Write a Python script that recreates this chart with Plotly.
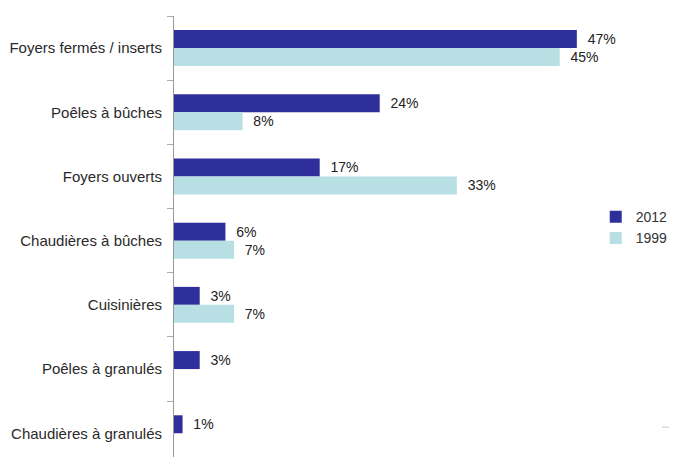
import plotly.graph_objects as go

categories = ["Foyers fermés / inserts", "Poêles à bûches", "Foyers ouverts",
              "Chaudières à bûches", "Cuisinières", "Poêles à granulés",
              "Chaudières à granulés"]
values_2012 = [47, 24, 17, 6, 3, 3, 1]
values_1999 = [45, 8, 33, 7, 7, None, None]

dark = "#2f2f9c"
light = "#b8dfe3"

def labels(vals):
    return ["\u00a0\u00a0" + f"{v}%" if v is not None else "" for v in vals]

lab_font = dict(family="Liberation Sans, Arial", size=14, color="#222")

fig = go.Figure()
fig.add_trace(go.Bar(y=categories, x=values_2012, orientation="h", name="2012",
                     legendgroup="a",
                     marker=dict(color=dark, line=dict(width=0)),
                     text=labels(values_2012), textposition="outside",
                     textfont=lab_font, cliponaxis=False))
fig.add_trace(go.Bar(y=categories, x=values_1999, orientation="h", name="1999",
                     legendgroup="b",
                     marker=dict(color=light, line=dict(width=0)),
                     text=labels(values_1999), textposition="outside",
                     textfont=lab_font, cliponaxis=False))

fig.update_layout(
    width=669, height=449,
    margin=dict(l=166, r=77, t=8, b=0, autoexpand=False),
    paper_bgcolor="white", plot_bgcolor="white",
    barmode="group", bargap=0.44, bargroupgap=0,
    font=dict(family="Liberation Sans, Arial", size=15, color="#2a2a2a"),
    showlegend=True,
    legend=dict(x=0.99, y=0.52, xanchor="left", yanchor="middle",
                font=dict(size=14, color="#333"), traceorder="normal",
                itemwidth=30, tracegroupgap=13, bgcolor="rgba(0,0,0,0)"),
    xaxis=dict(range=[0, 49.7], visible=False, fixedrange=True, automargin=False),
    yaxis=dict(categoryorder="array", categoryarray=categories,
               range=[6.37, -0.5], showline=True, linecolor="#999", linewidth=1,
               ticks="outside", tickson="boundaries", ticklen=6, tickcolor="#aaa",
               showgrid=False, zeroline=False, ticklabelstandoff=8,
               automargin=False),
    shapes=[dict(type="line", xref="paper", yref="paper", x0=1.1455, x1=1.1808,
                 y0=0.0677, y1=0.0677, line=dict(color="#c8c8c8", width=1))],
)

fig.write_html("out.html")
